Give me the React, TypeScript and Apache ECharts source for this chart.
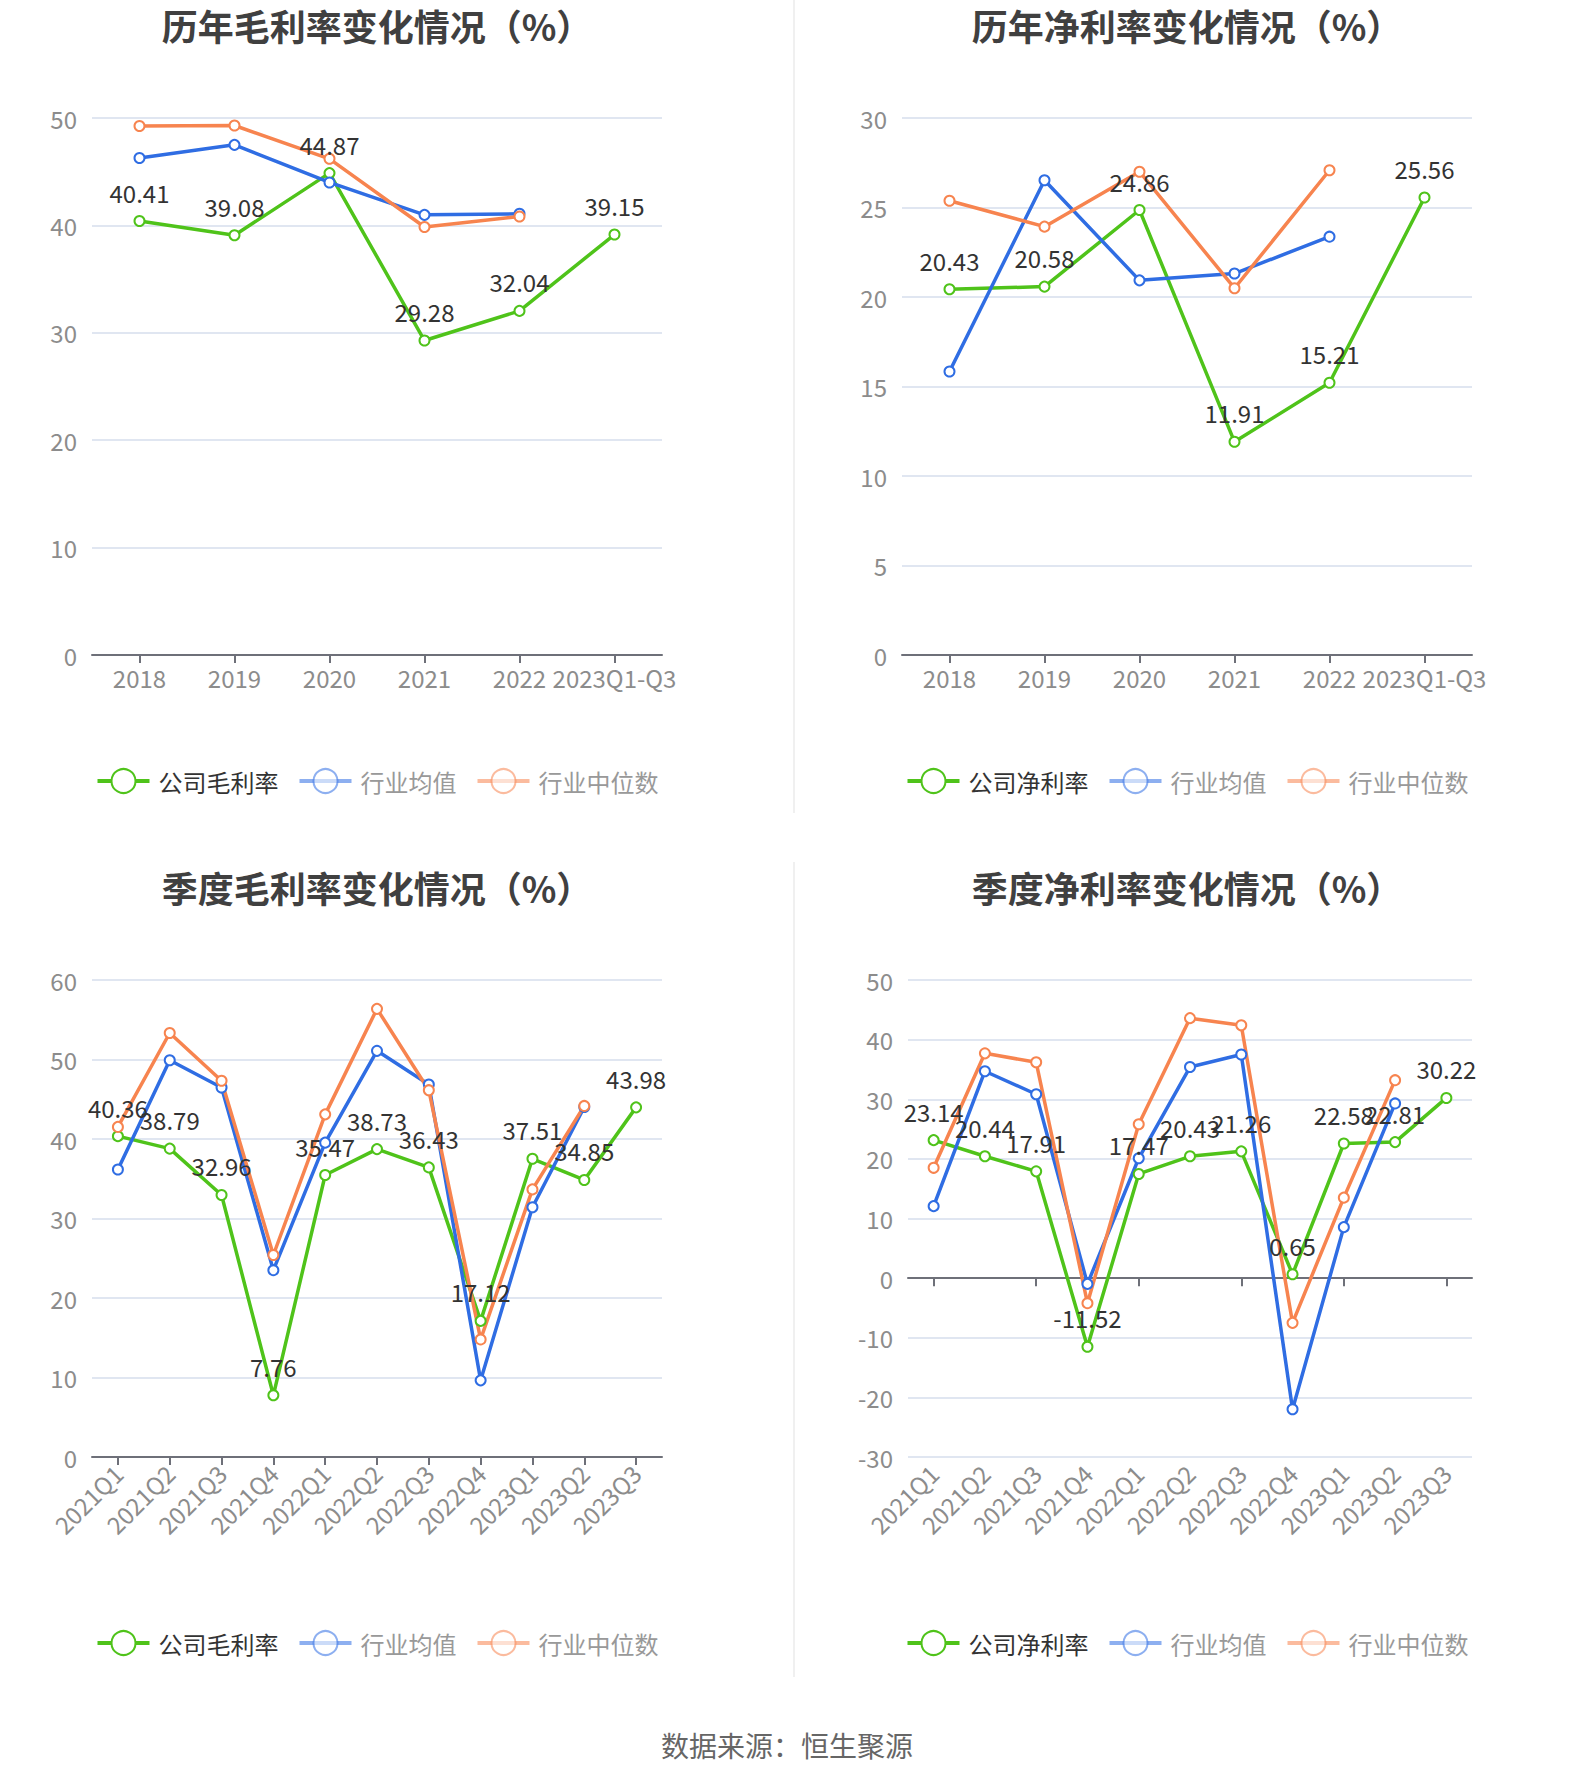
import React, { useEffect, useRef } from "react";
import * as echarts from "echarts";

const years = ["2018", "2019", "2020", "2021", "2022", "2023Q1-Q3"];
const annualGrossCompany = [40.41, 39.08, 44.87, 29.28, 32.04, 39.15];
const annualGrossAvg = [46.27, 47.5, 44.0, 40.98, 41.08, null];
const annualGrossMedian = [49.26, 49.3, 46.2, 39.85, 40.83, null];

const annualNetCompany = [20.43, 20.58, 24.86, 11.91, 15.21, 25.56];
const annualNetAvg = [15.84, 26.52, 20.93, 21.31, 23.37, null];
const annualNetMedian = [25.38, 23.93, 27.0, 20.49, 27.08, null];

const quarters = [
  "2021Q1", "2021Q2", "2021Q3", "2021Q4",
  "2022Q1", "2022Q2", "2022Q3", "2022Q4",
  "2023Q1", "2023Q2", "2023Q3",
];
const quarterGrossCompany = [40.36, 38.79, 32.96, 7.76, 35.47, 38.73, 36.43, 17.12, 37.51, 34.85, 43.98];
const quarterGrossAvg = [36.17, 49.9, 46.47, 23.5, 39.54, 51.09, 46.86, 9.64, 31.42, 44.03, null];
const quarterGrossMedian = [41.52, 53.33, 47.33, 25.41, 43.1, 56.37, 46.14, 14.79, 33.66, 44.16, null];

const quarterNetCompany = [23.14, 20.44, 17.91, -11.52, 17.47, 20.43, 21.26, 0.65, 22.58, 22.81, 30.22];
const quarterNetAvg = [12.07, 34.7, 30.84, -0.97, 20.1, 35.4, 37.5, -22.0, 8.55, 29.3, null];
const quarterNetMedian = [18.5, 37.7, 36.2, -4.2, 25.8, 43.6, 42.4, -7.5, 13.5, 33.2, null];

const GREEN = "#4fc31a";
const BLUE = "#2f6de3";
const ORANGE = "#f7844f";
const FONT = "'Noto Sans CJK SC', 'Noto Sans', sans-serif";

type Cfg = {
  title: string;
  companyName: string;
  cats: string[];
  company: (number | null)[];
  avg: (number | null)[];
  median: (number | null)[];
  min: number;
  max: number;
  interval: number;
  rotate: boolean;
  gridLeft: number;
  gridTop: number;
  gridHeight: number;
};

function buildOption(c: Cfg) {
  const gridRight = 92;
  const baseSeries = (name: string, data: (number | null)[], color: string, labels: boolean) => ({
    name,
    type: "line",
    data,
    xAxisIndex: 0,
    yAxisIndex: 0,
    symbol: "emptyCircle",
    symbolSize: 10,
    lineStyle: { width: 3.5, color },
    itemStyle: { color, borderWidth: 2.5 },
    label: labels
      ? {
          show: true,
          position: "top",
          distance: 11,
          color: "#333",
          fontSize: 24,
          fontFamily: FONT,
        }
      : { show: false },
    emphasis: { disabled: true },
  });
  const xAxisBase = {
    type: "category",
    data: c.cats,
    boundaryGap: true,
    gridIndex: 0,
  };
  const labelStyle = {
    interval: 0,
    fontSize: 24,
    color: "#8c8c8c",
    fontFamily: FONT,
  };
  const xAxes: any[] = [];
  if (c.min < 0) {
    xAxes.push({
      ...xAxisBase,
      position: "bottom",
      axisLine: { show: true, onZero: true, lineStyle: { color: "#6e7079", width: 2 } },
      axisTick: { show: true, alignWithLabel: true, length: 8, lineStyle: { color: "#6e7079", width: 2 } },
      axisLabel: { show: false },
      splitLine: { show: false },
    });
    xAxes.push({
      ...xAxisBase,
      position: "bottom",
      axisLine: { show: false, onZero: false },
      axisTick: { show: false },
      axisLabel: { ...labelStyle, show: true, rotate: 45, margin: 12 },
      splitLine: { show: false },
    });
  } else {
    xAxes.push({
      ...xAxisBase,
      position: "bottom",
      axisLine: { show: true, lineStyle: { color: "#6e7079", width: 2 } },
      axisTick: { show: true, alignWithLabel: true, length: 8, lineStyle: { color: "#6e7079", width: 2 } },
      axisLabel: { ...labelStyle, show: true, rotate: c.rotate ? 45 : 0, margin: c.rotate ? 12 : 10 },
      splitLine: { show: false },
    });
  }
  const fade = {
    textStyle: { color: "#999", padding: [0, 0, 0, 4] },
    itemStyle: { opacity: 0.55, borderWidth: 3.5 },
    lineStyle: { opacity: 0.55, width: 4 },
  };
  return {
    animation: false,
    title: {
      text: c.title,
      left: "center",
      top: 2,
      padding: [5, 11, 5, 5],
      textStyle: { fontSize: 36, fontWeight: "bold", color: "#404040", fontFamily: FONT },
    },
    legend: {
      left: "center",
      top: 763,
      itemWidth: 52,
      itemHeight: 30,
      itemGap: 19,
      textStyle: { fontSize: 24, color: "#333", fontFamily: FONT, padding: [0, 0, 0, 4] },
      data: [
        { name: c.companyName, itemStyle: { borderWidth: 3.5 }, lineStyle: { width: 4 } },
        { name: "行业均值", ...fade },
        { name: "行业中位数", ...fade },
      ],
    },
    grid: { left: c.gridLeft, right: gridRight, top: c.gridTop, height: c.gridHeight, containLabel: false },
    xAxis: xAxes,
    yAxis: {
      type: "value",
      min: c.min,
      max: c.max,
      interval: c.interval,
      axisLine: { show: false },
      axisTick: { show: false },
      axisLabel: { fontSize: 24, color: "#8c8c8c", margin: 15, fontFamily: FONT },
      splitLine: { lineStyle: { color: "#e0e6f1", width: 2 } },
    },
    series: [
      baseSeries(c.companyName, c.company, GREEN, true),
      baseSeries("行业均值", c.avg, BLUE, false),
      baseSeries("行业中位数", c.median, ORANGE, false),
    ],
  };
}

function Chart({ cfg, left, top }: { cfg: Cfg; left: number; top: number }) {
  const ref = useRef<HTMLDivElement>(null);
  useEffect(() => {
    if (!ref.current) return;
    const chart = echarts.init(ref.current, undefined, { renderer: "svg" });
    chart.setOption(buildOption(cfg) as any);
    return () => chart.dispose();
  }, []);
  return (
    <div
      ref={ref}
      style={{ position: "absolute", left, top, width: 754, height: 812 }}
    />
  );
}

const charts: { cfg: Cfg; left: number; top: number }[] = [
  {
    left: 0,
    top: 0,
    cfg: {
      title: "历年毛利率变化情况（%）",
      companyName: "公司毛利率",
      cats: years,
      company: annualGrossCompany,
      avg: annualGrossAvg,
      median: annualGrossMedian,
      min: 0,
      max: 50,
      interval: 10,
      rotate: false,
      gridLeft: 92,
      gridTop: 118,
      gridHeight: 537,
    },
  },
  {
    left: 810,
    top: 0,
    cfg: {
      title: "历年净利率变化情况（%）",
      companyName: "公司净利率",
      cats: years,
      company: annualNetCompany,
      avg: annualNetAvg,
      median: annualNetMedian,
      min: 0,
      max: 30,
      interval: 5,
      rotate: false,
      gridLeft: 92,
      gridTop: 118,
      gridHeight: 537,
    },
  },
  {
    left: 0,
    top: 862,
    cfg: {
      title: "季度毛利率变化情况（%）",
      companyName: "公司毛利率",
      cats: quarters,
      company: quarterGrossCompany,
      avg: quarterGrossAvg,
      median: quarterGrossMedian,
      min: 0,
      max: 60,
      interval: 10,
      rotate: true,
      gridLeft: 92,
      gridTop: 118,
      gridHeight: 477,
    },
  },
  {
    left: 810,
    top: 862,
    cfg: {
      title: "季度净利率变化情况（%）",
      companyName: "公司净利率",
      cats: quarters,
      company: quarterNetCompany,
      avg: quarterNetAvg,
      median: quarterNetMedian,
      min: -30,
      max: 50,
      interval: 10,
      rotate: true,
      gridLeft: 98,
      gridTop: 118,
      gridHeight: 477,
    },
  },
];

export default function App() {
  useEffect(() => {
    document.body.style.margin = "0";
  }, []);
  return (
    <div style={{ position: "relative", width: 1574, height: 1782, background: "#fff", overflow: "hidden" }}>
      <div style={{ position: "absolute", left: 793, top: 0, width: 2, height: 813, background: "#f0f0f0" }} />
      <div style={{ position: "absolute", left: 793, top: 862, width: 2, height: 815, background: "#f0f0f0" }} />
      {charts.map((c, i) => (
        <Chart key={i} cfg={c.cfg} left={c.left} top={c.top} />
      ))}
      <div
        style={{
          position: "absolute",
          left: 0,
          top: 1725,
          width: 1574,
          textAlign: "center",
          fontSize: 28,
          color: "#666",
          fontFamily: FONT,
          lineHeight: "40px",
        }}
      >
        数据来源：恒生聚源
      </div>
    </div>
  );
}
